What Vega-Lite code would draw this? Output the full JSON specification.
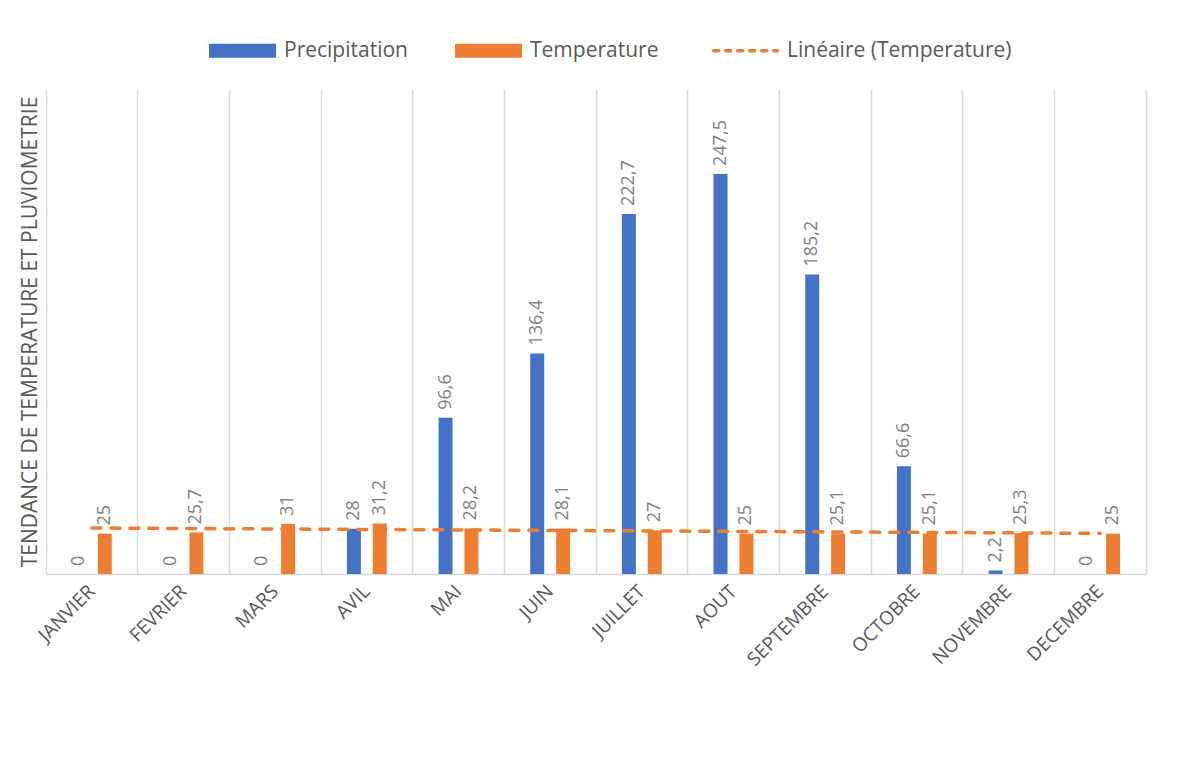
{
  "$schema": "https://vega.github.io/schema/vega-lite/v6.json",
  "width": 1100,
  "height": 485,
  "autosize": {"type": "none"},
  "padding": {"left": 46, "top": 89, "right": 31, "bottom": 188},
  "background": "white",
  "config": {
    "locale": {"number": {"decimal": ",", "thousands": " ", "grouping": [3], "currency": ["", " €"]}},
    "font": "Open Sans",
    "view": {"stroke": null}
  },
  "datasets": {
    "climat": [
      {"mois": "JANVIER", "idx": 1, "serie": "Precipitation", "valeur": 0},
      {"mois": "JANVIER", "idx": 1, "serie": "Temperature", "valeur": 25},
      {"mois": "FEVRIER", "idx": 2, "serie": "Precipitation", "valeur": 0},
      {"mois": "FEVRIER", "idx": 2, "serie": "Temperature", "valeur": 25.7},
      {"mois": "MARS", "idx": 3, "serie": "Precipitation", "valeur": 0},
      {"mois": "MARS", "idx": 3, "serie": "Temperature", "valeur": 31},
      {"mois": "AVIL", "idx": 4, "serie": "Precipitation", "valeur": 28},
      {"mois": "AVIL", "idx": 4, "serie": "Temperature", "valeur": 31.2},
      {"mois": "MAI", "idx": 5, "serie": "Precipitation", "valeur": 96.6},
      {"mois": "MAI", "idx": 5, "serie": "Temperature", "valeur": 28.2},
      {"mois": "JUIN", "idx": 6, "serie": "Precipitation", "valeur": 136.4},
      {"mois": "JUIN", "idx": 6, "serie": "Temperature", "valeur": 28.1},
      {"mois": "JUILLET", "idx": 7, "serie": "Precipitation", "valeur": 222.7},
      {"mois": "JUILLET", "idx": 7, "serie": "Temperature", "valeur": 27},
      {"mois": "AOUT", "idx": 8, "serie": "Precipitation", "valeur": 247.5},
      {"mois": "AOUT", "idx": 8, "serie": "Temperature", "valeur": 25},
      {"mois": "SEPTEMBRE", "idx": 9, "serie": "Precipitation", "valeur": 185.2},
      {"mois": "SEPTEMBRE", "idx": 9, "serie": "Temperature", "valeur": 25.1},
      {"mois": "OCTOBRE", "idx": 10, "serie": "Precipitation", "valeur": 66.6},
      {"mois": "OCTOBRE", "idx": 10, "serie": "Temperature", "valeur": 25.1},
      {"mois": "NOVEMBRE", "idx": 11, "serie": "Precipitation", "valeur": 2.2},
      {"mois": "NOVEMBRE", "idx": 11, "serie": "Temperature", "valeur": 25.3},
      {"mois": "DECEMBRE", "idx": 12, "serie": "Precipitation", "valeur": 0},
      {"mois": "DECEMBRE", "idx": 12, "serie": "Temperature", "valeur": 25}
    ]
  },
  "data": {"name": "climat"},
  "layer": [
    {
      "mark": {"type": "bar"},
      "encoding": {
        "x": {
          "field": "mois", "type": "nominal", "sort": null,
          "scale": {"paddingInner": 0, "paddingOuter": 0},
          "axis": {
            "title": null, "labelAngle": -45, "labelFontSize": 19, "labelColor": "#595959",
            "ticks": false, "grid": true, "bandPosition": 0, "gridColor": "#D9D9D9", "gridWidth": 1.5,
            "domainColor": "#D9D9D9", "domainWidth": 1.5,
            "labelPadding": 14, "labelAlign": "right", "labelBaseline": "middle"
          }
        },
        "xOffset": {
          "field": "serie", "type": "nominal",
          "scale": {"domain": ["Precipitation", "Temperature"], "paddingInner": 0.46, "paddingOuter": 1.14}
        },
        "y": {
          "field": "valeur", "type": "quantitative",
          "scale": {"domain": [0, 300], "nice": false},
          "axis": {
            "orient": "left",
            "title": "TENDANCE DE TEMPERATURE ET PLUVIOMETRIE", "titleFontSize": 21,
            "titleFontWeight": "normal", "titleColor": "#595959",
            "labels": false, "ticks": false, "domain": false, "grid": false, "titlePadding": 6
          }
        },
        "color": {
          "field": "serie", "type": "nominal",
          "scale": {
            "domain": ["Precipitation", "Temperature", "Linéaire (Temperature)"],
            "range": ["#4472C4", "#ED7D31", "#ED7D31"]
          },
          "legend": {
            "orient": "none", "legendX": 186, "legendY": -49, "direction": "horizontal",
            "title": null, "symbolSize": 4489, "labelFontSize": 21, "labelColor": "#595959",
            "labelOffset": 31, "columnPadding": 47, "labelLimit": 400,
            "encode": {
              "symbols": {
                "update": {
                  "shape": {"signal": "datum.value === 'Linéaire (Temperature)' ? 'M-0.95,0H0.95' : 'M-1,-0.21H1V0.21H-1Z'"},
                  "fill": {"signal": "datum.value === 'Linéaire (Temperature)' ? 'transparent' : scale('color', datum.value)"},
                  "stroke": {"signal": "scale('color', datum.value)"},
                  "strokeWidth": {"signal": "datum.value === 'Linéaire (Temperature)' ? 3.5 : 0"},
                  "strokeDash": {"signal": "datum.value === 'Linéaire (Temperature)' ? [5, 7] : [1, 0]"},
                  "strokeCap": {"value": "round"},
                  "opacity": {"value": 1}
                }
              }
            }
          }
        }
      }
    },
    {
      "mark": {"type": "text", "angle": 270, "align": "left", "baseline": "middle", "dx": 8, "fontSize": 18, "color": "#7F7F7F"},
      "encoding": {
        "x": {"field": "mois", "type": "nominal", "sort": null},
        "xOffset": {"field": "serie", "type": "nominal"},
        "y": {"field": "valeur", "type": "quantitative", "axis": null},
        "text": {"field": "valeur", "type": "quantitative", "format": ".1~f"}
      }
    },
    {
      "transform": [
        {"filter": "datum.serie === 'Temperature'"},
        {"regression": "valeur", "on": "idx", "extent": [1, 12]},
        {"lookup": "idx", "from": {"data": {"name": "climat"}, "key": "idx", "fields": ["mois"]}}
      ],
      "mark": {"type": "line", "strokeDash": [9, 10], "strokeWidth": 3.5, "strokeCap": "round"},
      "encoding": {
        "x": {"field": "mois", "type": "nominal", "sort": null},
        "y": {
          "field": "valeur", "type": "quantitative",
          "axis": {
            "orient": "right", "title": null, "labels": false, "ticks": false, "grid": false,
            "domain": true, "domainColor": "#D9D9D9", "domainWidth": 1.5
          }
        },
        "color": {"datum": "Linéaire (Temperature)"}
      }
    }
  ],
  "resolve": {"axis": {"y": "independent"}}
}
